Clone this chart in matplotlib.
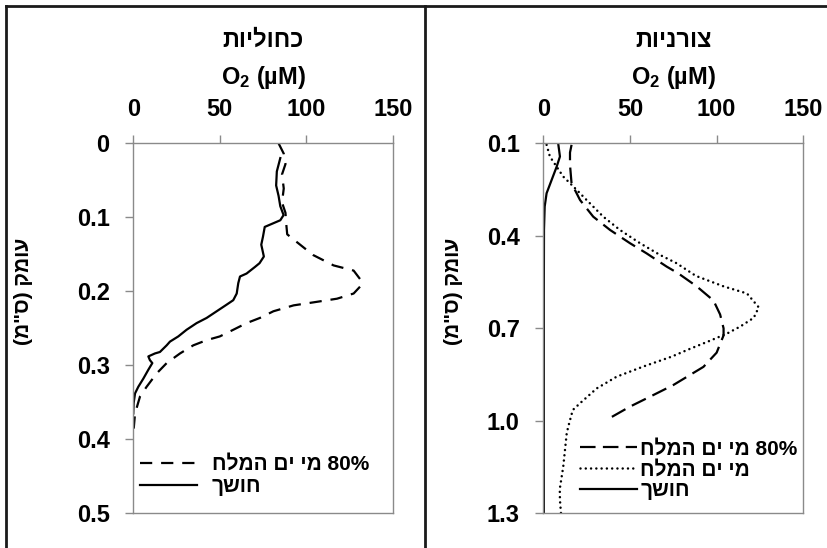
import matplotlib
matplotlib.use("Agg")
import matplotlib.pyplot as plt
from matplotlib.lines import Line2D

plt.rcParams["font.family"] = ["Liberation Sans", "DejaVu Sans"]
plt.rcParams["font.weight"] = "bold"
plt.rcParams["mathtext.fontset"] = "custom"
plt.rcParams["mathtext.rm"] = "Liberation Sans:bold"
plt.rcParams["mathtext.default"] = "rm"

# כחוליות - חושך
sand_dark_depth = [0.02, 0.038, 0.057, 0.071, 0.085, 0.097, 0.104, 0.108, 0.113, 0.126, 0.137, 0.153,
                   0.162, 0.167, 0.176, 0.18, 0.189, 0.203, 0.212, 0.218, 0.227, 0.236, 0.243, 0.252,
                   0.261, 0.268, 0.273, 0.282, 0.284, 0.288, 0.293, 0.297, 0.306, 0.318, 0.329, 0.338,
                   0.351, 0.365]
sand_dark_o2 = [85, 83, 82.6, 84, 85, 86.9, 85, 81, 76, 75, 74, 75.5,
                73, 70.4, 65.5, 61.7, 60.7, 59.8, 57.8, 54, 48.2, 42.4, 36.6, 30.8,
                26, 21.2, 19.3, 15.4, 12.5, 8.7, 9.6, 11, 8.7, 5.8, 2.9, 1,
                0.2, 0]

# כחוליות - 80% מי ים המלח
sand_dsw80_depth = [0, 0.014, 0.028, 0.042, 0.061, 0.08, 0.094, 0.108, 0.123, 0.13, 0.151, 0.165,
                    0.172, 0.184, 0.191, 0.203, 0.21, 0.215, 0.219, 0.227, 0.236, 0.243, 0.252, 0.261,
                    0.266, 0.273, 0.284, 0.297, 0.311, 0.329, 0.342, 0.365, 0.392]
sand_dsw80_o2 = [84, 87, 88, 86, 87, 86, 88, 88.4, 89, 92.7, 104, 115.8,
                 127.4, 131.3, 132.2, 127.4, 117.8, 104, 92.7, 81, 73.2, 65.5, 57.8, 50,
                 42.4, 34.7, 27, 19.3, 13.5, 7.7, 3.9, 1, 0]

# צורניות - חושך
mat_dark_depth = [0.105, 0.143, 0.176, 0.219, 0.262, 0.305, 0.38, 0.6, 0.9, 1.3]
mat_dark_o2 = [8.7, 9.6, 7.7, 4.8, 1.9, 0.8, 0.4, 0.3, 0.3, 0.3]

# צורניות - מי ים המלח
mat_dsw_depth = [0.105, 0.143, 0.176, 0.208, 0.24, 0.284, 0.338, 0.381, 0.424, 0.462, 0.489, 0.53,
                 0.564, 0.587, 0.632, 0.666, 0.694, 0.717, 0.74, 0.768, 0.792, 0.824, 0.857, 0.895,
                 0.943, 0.965, 1.019, 1.041, 1.149, 1.221, 1.257, 1.3]
mat_dsw_o2 = [1.9, 3.8, 7.7, 11.5, 17.3, 25, 34.6, 44.2, 55.8, 67.3, 76.9, 88,
              104, 117.5, 124.3, 121.4, 113.7, 106, 96.3, 84, 74, 57.7, 42.3, 30.8,
              21.2, 17, 14.4, 13.5, 11.5, 9.5, 9.6, 10.2]

# צורניות - 80% מי ים המלח
mat_dsw80_depth = [0.105, 0.13, 0.17, 0.23, 0.284, 0.338, 0.381, 0.424, 0.457, 0.5, 0.522, 0.564,
                   0.61, 0.655, 0.7, 0.723, 0.779, 0.825, 0.884, 0.922, 0.954, 0.997]
mat_dsw80_o2 = [16.3, 15.4, 15.4, 16.3, 21.2, 28.8, 38.5, 50, 59.6, 71.2, 77.9, 88.5,
                98.2, 102, 104, 104, 100, 92.4, 75, 61.5, 50, 36.5]

o2_ticks = [0, 50, 100, 150]
sand_depth_ticks = [0, 0.1, 0.2, 0.3, 0.4, 0.5]
sand_depth_labels = ["0", "0.1", "0.2", "0.3", "0.4", "0.5"]
mat_depth_ticks = [0.1, 0.4, 0.7, 1.0, 1.3]
mat_depth_labels = ["0.1", "0.4", "0.7", "1.0", "1.3"]


def visual(text):
    """matplotlib כותב משמאל לימין, לכן הופכים את סדר האותיות בעברית"""
    swap = {"(": ")", ")": "("}
    return "".join(swap.get(c, c) for c in reversed(text))


LBL_DSW80 = visual("מי ים המלח") + " 80%"
LBL_DSW = visual("מי ים המלח")
LBL_DARK = visual("חושך")
O2_LABEL = r"O$_{\mathrm{2}}$ (µM)"
DEPTH_LABEL = visual('עומק (ס"מ)')

GRAY = "#8a8a8a"
W, H = 827, 548


def setup_axes(ax, depth_lim, depth_ticks, depth_labels, title, ylabel_x):
    ax.set_xlim(0, 150)
    ax.set_ylim(*depth_lim)
    ax.set_xticks(o2_ticks)
    ax.set_yticks(depth_ticks)
    ax.set_yticklabels(depth_labels)
    ax.xaxis.tick_top()
    for s in ax.spines.values():
        s.set_color(GRAY)
        s.set_linewidth(1.0)
    ax.tick_params(axis="both", direction="out", length=6, width=1.0, color=GRAY, labelsize=17)
    ax.tick_params(axis="x", pad=10)
    ax.tick_params(axis="y", pad=11)
    ax.text(0.5, 1.279, visual(title), transform=ax.transAxes, ha="center", va="center", fontsize=17)
    ax.text(0.5, 1.177, O2_LABEL, transform=ax.transAxes, ha="center", va="center", fontsize=17)
    ax.text(ylabel_x, 0.6, DEPTH_LABEL, transform=ax.transAxes, rotation=90,
            ha="center", va="center", fontsize=15)


fig = plt.figure(figsize=(W / 100, H / 100), dpi=100)

ax1 = fig.add_axes([133.3 / W, 34.7 / H, 259.4 / W, 370 / H])
ax2 = fig.add_axes([543.3 / W, 34.7 / H, 260 / W, 370 / H])

# כחוליות
l1, = ax1.plot(sand_dsw80_o2, sand_dsw80_depth, color="black", lw=1.6, linestyle=(0, (5.5, 4)))
l2, = ax1.plot(sand_dark_o2, sand_dark_depth, color="black", lw=1.6)
setup_axes(ax1, (0.5, 0), sand_depth_ticks, sand_depth_labels, "כחוליות", -0.425)
ax1.legend([l1, l2], [LBL_DSW80, LBL_DARK], loc="upper left", bbox_to_anchor=(0.026, 0.158),
           frameon=False, borderpad=0, borderaxespad=0, handlelength=2.75, handletextpad=0.7,
           labelspacing=0.15, prop={"size": 15, "weight": "bold"})

# צורניות
m1, = ax2.plot(mat_dsw80_o2, mat_dsw80_depth, color="black", lw=1.6, linestyle=(0, (7, 3.3)))
m2, = ax2.plot(mat_dsw_o2, mat_dsw_depth, color="black", lw=1.8, linestyle=(0, (0.01, 2.1)),
               dash_capstyle="round")
m3, = ax2.plot(mat_dark_o2, mat_dark_depth, color="black", lw=1.6)
setup_axes(ax2, (1.3, 0.1), mat_depth_ticks, mat_depth_labels, "צורניות", -0.347)
ax2.legend([m1, m2, m3], [LBL_DSW80, LBL_DSW, LBL_DARK], loc="upper left", bbox_to_anchor=(0.141, 0.2),
           frameon=False, borderpad=0, borderaxespad=0, handlelength=2.75, handletextpad=0.15,
           labelspacing=0.1, prop={"size": 15, "weight": "bold"})

# מסגרת הטבלה
for xs, ys in [([5.5, W], [H - 5.5, H - 5.5]),
               ([5.5, 5.5], [0, H - 5.5]),
               ([424.5, 424.5], [0, H - 5.5])]:
    fig.add_artist(Line2D([x / W for x in xs], [y / H for y in ys], transform=fig.transFigure,
                          color="#1a1a1a", lw=2))

fig.savefig("out.png", dpi=100)
